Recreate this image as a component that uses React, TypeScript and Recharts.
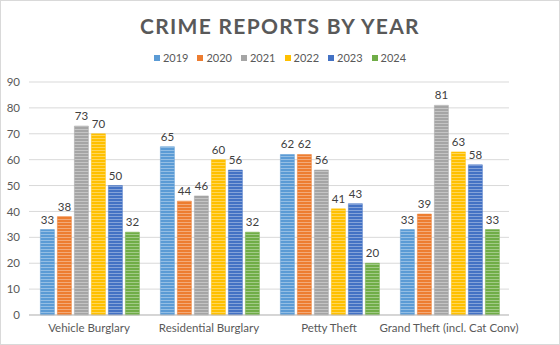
import { BarChart, Bar, XAxis, YAxis, CartesianGrid, LabelList } from 'recharts';

const categories = ['Vehicle Burglary', 'Residential Burglary', 'Petty Theft', 'Grand Theft (incl. Cat Conv)'];
const years = ['2019', '2020', '2021', '2022', '2023', '2024'];
const colors = ['#5B9BD5', '#ED7D31', '#A5A5A5', '#FFC000', '#4472C4', '#70AD47'];

const v2019 = [33, 65, 62, 33];
const v2020 = [38, 44, 62, 39];
const v2021 = [73, 46, 56, 81];
const v2022 = [70, 60, 41, 63];
const v2023 = [50, 56, 43, 58];
const v2024 = [32, 32, 20, 33];
const yTicks = [0, 10, 20, 30, 40, 50, 60, 70, 80, 90];

const series = [v2019, v2020, v2021, v2022, v2023, v2024];

const chartData = categories.map((name, i) => {
  const row: any = { name };
  years.forEach((y, j) => {
    row[y] = series[j][i];
  });
  return row;
});

const FONT = 'Lato, "Noto Sans", sans-serif';

export default function App() {
  return (
    <div style={{ position: 'fixed', top: 0, left: 0, width: 560, height: 345, background: '#fff', fontFamily: FONT }}>
      <div style={{ position: 'absolute', left: 0, top: 0, width: 558, height: 343, border: '1px solid #d9d9d9' }} />
      <div
        style={{
          position: 'absolute', top: 13, left: 0, width: 560, textAlign: 'center',
          fontSize: 21, fontWeight: 700, letterSpacing: 1.3, color: '#595959',
        }}
      >
        CRIME REPORTS BY YEAR
      </div>
      {/* legend */}
      <div
        style={{
          position: 'absolute', top: 51, left: 0, width: 560, display: 'flex', justifyContent: 'center',
          fontSize: 11, color: '#595959',
        }}
      >
        {years.map((y, i) => (
          <div key={y} style={{ display: 'flex', alignItems: 'center', marginRight: i < years.length - 1 ? 9 : 0 }}>
            <span style={{ display: 'inline-block', width: 6, height: 6, background: colors[i], marginRight: 3 }} />
            <span>{y}</span>
          </div>
        ))}
      </div>
      <div style={{ position: 'absolute', top: 0, left: 0 }}>
        <BarChart
          width={560}
          height={345}
          data={chartData}
          margin={{ top: 82, right: 51, left: 0, bottom: 0 }}
          barCategoryGap="9.5%"
          barGap={3}
        >
          <defs>
            {colors.map((c, i) => (
              <pattern key={c} id={`stripe${i}`} width={4} height={3} patternUnits="userSpaceOnUse">
                <rect width={4} height={3} fill={c} />
                <rect y={0} width={4} height={1} fill="#fff" fillOpacity={0.35} />
              </pattern>
            ))}
          </defs>
          <CartesianGrid vertical={false} stroke="#d9d9d9" />
          <XAxis
            dataKey="name"
            height={30}
            tickLine={false}
            axisLine={{ stroke: '#bfbfbf' }}
            tick={{ fontSize: 11.5, fill: '#595959', fontFamily: FONT }}
            tickMargin={3}
            interval={0}
          />
          <YAxis
            width={29}
            domain={[0, 90]}
            ticks={yTicks}
            axisLine={false}
            tickLine={false}
            tick={{ fontSize: 11.5, fill: '#595959', fontFamily: FONT }}
            tickMargin={3}
          />
          {years.map((y, i) => (
            <Bar key={y} dataKey={y} fill={`url(#stripe${i})`} stroke={colors[i]} strokeWidth={0.5} isAnimationActive={false}>
              <LabelList dataKey={y} position="top" offset={6} style={{ fontSize: 11.5, fill: '#404040', fontFamily: FONT }} />
            </Bar>
          ))}
        </BarChart>
      </div>
    </div>
  );
}
